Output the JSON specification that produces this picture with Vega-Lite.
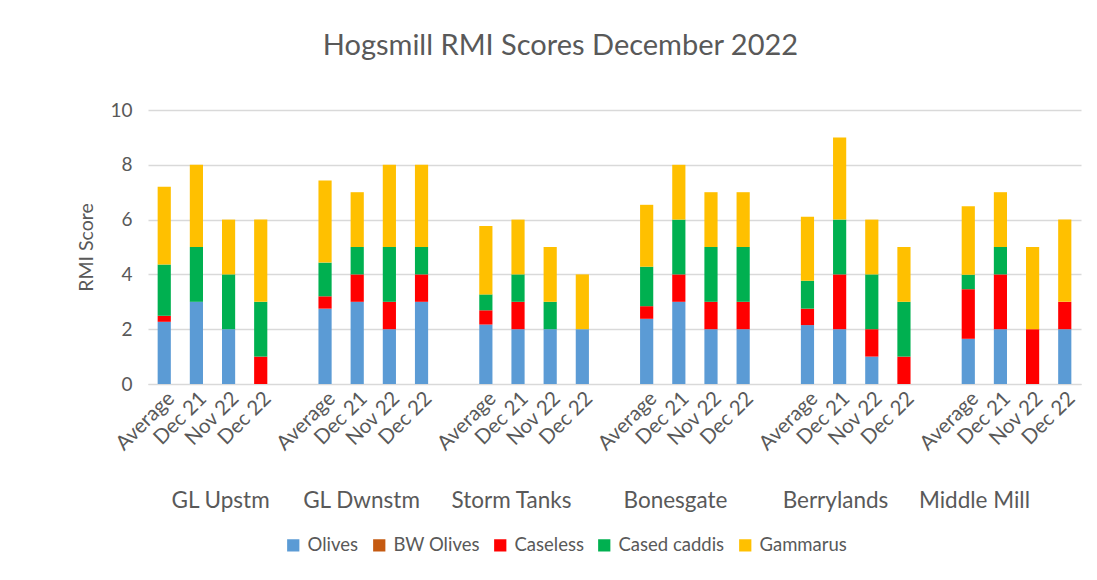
{
  "$schema": "https://vega.github.io/schema/vega-lite/v6.json",
  "autosize": {"type": "none"},
  "padding": {"left": 148, "top": 110, "right": 16, "bottom": 196},
  "width": 933,
  "height": 274,
  "background": "white",
  "title": {
    "text": "Hogsmill RMI Scores December 2022",
    "font": "Lato",
    "fontSize": 29,
    "fontWeight": "normal",
    "color": "#595959",
    "anchor": "middle",
    "dx": -54,
    "offset": 40
  },
  "config": {
    "font": "Lato",
    "view": {"stroke": null}
  },
  "data": {
    "values": [
      {"site": "GL Upstm", "period": "Average", "Olives": 2.27, "BW Olives": 0, "Caseless": 0.22, "Cased caddis": 1.87, "Gammarus": 2.84},
      {"site": "GL Upstm", "period": "Dec 21", "Olives": 3, "BW Olives": 0, "Caseless": 0, "Cased caddis": 2, "Gammarus": 3},
      {"site": "GL Upstm", "period": "Nov 22", "Olives": 2, "BW Olives": 0, "Caseless": 0, "Cased caddis": 2, "Gammarus": 2},
      {"site": "GL Upstm", "period": "Dec 22", "Olives": 0, "BW Olives": 0, "Caseless": 1, "Cased caddis": 2, "Gammarus": 3},
      {"site": "GL Dwnstm", "period": "Average", "Olives": 2.75, "BW Olives": 0, "Caseless": 0.45, "Cased caddis": 1.23, "Gammarus": 3.0},
      {"site": "GL Dwnstm", "period": "Dec 21", "Olives": 3, "BW Olives": 0, "Caseless": 1, "Cased caddis": 1, "Gammarus": 2},
      {"site": "GL Dwnstm", "period": "Nov 22", "Olives": 2, "BW Olives": 0, "Caseless": 1, "Cased caddis": 2, "Gammarus": 3},
      {"site": "GL Dwnstm", "period": "Dec 22", "Olives": 3, "BW Olives": 0, "Caseless": 1, "Cased caddis": 1, "Gammarus": 3},
      {"site": "Storm Tanks", "period": "Average", "Olives": 2.17, "BW Olives": 0, "Caseless": 0.52, "Cased caddis": 0.58, "Gammarus": 2.5},
      {"site": "Storm Tanks", "period": "Dec 21", "Olives": 2, "BW Olives": 0, "Caseless": 1, "Cased caddis": 1, "Gammarus": 2},
      {"site": "Storm Tanks", "period": "Nov 22", "Olives": 2, "BW Olives": 0, "Caseless": 0, "Cased caddis": 1, "Gammarus": 2},
      {"site": "Storm Tanks", "period": "Dec 22", "Olives": 2, "BW Olives": 0, "Caseless": 0, "Cased caddis": 0, "Gammarus": 2},
      {"site": "Bonesgate", "period": "Average", "Olives": 2.38, "BW Olives": 0, "Caseless": 0.46, "Cased caddis": 1.44, "Gammarus": 2.26},
      {"site": "Bonesgate", "period": "Dec 21", "Olives": 3, "BW Olives": 0, "Caseless": 1, "Cased caddis": 2, "Gammarus": 2},
      {"site": "Bonesgate", "period": "Nov 22", "Olives": 2, "BW Olives": 0, "Caseless": 1, "Cased caddis": 2, "Gammarus": 2},
      {"site": "Bonesgate", "period": "Dec 22", "Olives": 2, "BW Olives": 0, "Caseless": 1, "Cased caddis": 2, "Gammarus": 2},
      {"site": "Berrylands", "period": "Average", "Olives": 2.15, "BW Olives": 0, "Caseless": 0.6, "Cased caddis": 1.02, "Gammarus": 2.33},
      {"site": "Berrylands", "period": "Dec 21", "Olives": 2, "BW Olives": 0, "Caseless": 2, "Cased caddis": 2, "Gammarus": 3},
      {"site": "Berrylands", "period": "Nov 22", "Olives": 1, "BW Olives": 0, "Caseless": 1, "Cased caddis": 2, "Gammarus": 2},
      {"site": "Berrylands", "period": "Dec 22", "Olives": 0, "BW Olives": 0, "Caseless": 1, "Cased caddis": 2, "Gammarus": 2},
      {"site": "Middle Mill", "period": "Average", "Olives": 1.65, "BW Olives": 0, "Caseless": 1.81, "Cased caddis": 0.53, "Gammarus": 2.5},
      {"site": "Middle Mill", "period": "Dec 21", "Olives": 2, "BW Olives": 0, "Caseless": 2, "Cased caddis": 1, "Gammarus": 2},
      {"site": "Middle Mill", "period": "Nov 22", "Olives": 0, "BW Olives": 0, "Caseless": 2, "Cased caddis": 0, "Gammarus": 3},
      {"site": "Middle Mill", "period": "Dec 22", "Olives": 2, "BW Olives": 0, "Caseless": 1, "Cased caddis": 0, "Gammarus": 3}
    ]
  },
  "transform": [
    {"fold": ["Olives", "BW Olives", "Caseless", "Cased caddis", "Gammarus"], "as": ["taxon", "score"]},
    {"calculate": "datum.site + '|' + datum.period", "as": "slot"},
    {"calculate": "indexof(['Olives','BW Olives','Caseless','Cased caddis','Gammarus'], datum.taxon)", "as": "ord"}
  ],
  "layer": [
    {
      "mark": {"type": "bar"},
      "encoding": {
        "x": {
          "field": "slot",
          "type": "nominal",
          "scale": {
            "domain": [
              "GL Upstm|Average", "GL Upstm|Dec 21", "GL Upstm|Nov 22", "GL Upstm|Dec 22", "gap1",
              "GL Dwnstm|Average", "GL Dwnstm|Dec 21", "GL Dwnstm|Nov 22", "GL Dwnstm|Dec 22", "gap2",
              "Storm Tanks|Average", "Storm Tanks|Dec 21", "Storm Tanks|Nov 22", "Storm Tanks|Dec 22", "gap3",
              "Bonesgate|Average", "Bonesgate|Dec 21", "Bonesgate|Nov 22", "Bonesgate|Dec 22", "gap4",
              "Berrylands|Average", "Berrylands|Dec 21", "Berrylands|Nov 22", "Berrylands|Dec 22", "gap5",
              "Middle Mill|Average", "Middle Mill|Dec 21", "Middle Mill|Nov 22", "Middle Mill|Dec 22"
            ],
            "paddingInner": 0.59,
            "paddingOuter": 0.3
          },
          "axis": {
            "orient": "bottom",
            "title": null,
            "labelExpr": "indexof(datum.value, '|') >= 0 ? split(datum.value, '|')[1] : ''",
            "labelAngle": -45,
            "labelFontSize": 20.5,
            "labelColor": "#595959",
            "labelPadding": 4,
            "ticks": false,
            "domainColor": "#d9d9d9",
            "grid": false
          }
        },
        "y": {
          "field": "score",
          "type": "quantitative",
          "stack": "zero",
          "scale": {"domain": [0, 10]},
          "axis": {
            "title": "RMI Score",
            "titleFontSize": 19.5,
            "titleFontWeight": "normal",
            "titleColor": "#595959",
            "titlePadding": 13,
            "values": [0, 2, 4, 6, 8, 10],
            "labelFontSize": 19,
            "labelColor": "#595959",
            "labelPadding": 16,
            "domain": false,
            "ticks": false,
            "gridColor": "#d9d9d9",
            "gridWidth": 1.3
          }
        },
        "color": {
          "field": "taxon",
          "type": "nominal",
          "scale": {
            "domain": ["Olives", "BW Olives", "Caseless", "Cased caddis", "Gammarus"],
            "range": ["#5B9BD5", "#C55A11", "#FF0000", "#00B050", "#FFC000"]
          },
          "legend": {
            "orient": "none",
            "legendX": 136,
            "legendY": 426,
            "direction": "horizontal",
            "title": null,
            "symbolType": "square",
            "symbolSize": 150,
            "symbolStrokeWidth": 0,
            "labelFontSize": 18.5,
            "labelColor": "#595959",
            "columnPadding": 11,
            "labelOffset": 5
          }
        },
        "order": {"field": "ord", "type": "quantitative"}
      }
    },
    {
      "mark": {"type": "point", "opacity": 0},
      "encoding": {
        "x": {
          "field": "site",
          "type": "nominal",
          "scale": {
            "type": "point",
            "domain": ["GL Upstm", "GL Dwnstm", "Storm Tanks", "Bonesgate", "Berrylands", "Middle Mill"],
            "padding": 0.398
          },
          "axis": {
            "orient": "bottom",
            "title": null,
            "labelAngle": 0,
            "labelFontSize": 22.5,
            "labelColor": "#595959",
            "labelPadding": 116,
            "labelBaseline": "middle",
            "labelOffset": {
              "condition": [
                {"test": "datum.value === 'GL Upstm'", "value": 8},
                {"test": "datum.value === 'GL Dwnstm'", "value": -12},
                {"test": "datum.value === 'Storm Tanks'", "value": -23},
                {"test": "datum.value === 'Bonesgate'", "value": -20},
                {"test": "datum.value === 'Berrylands'", "value": -21}
              ],
              "value": -43
            },
            "ticks": false,
            "domain": false,
            "grid": false
          }
        }
      }
    }
  ],
  "resolve": {"scale": {"x": "independent", "color": "independent"}, "axis": {"x": "independent"}}
}
